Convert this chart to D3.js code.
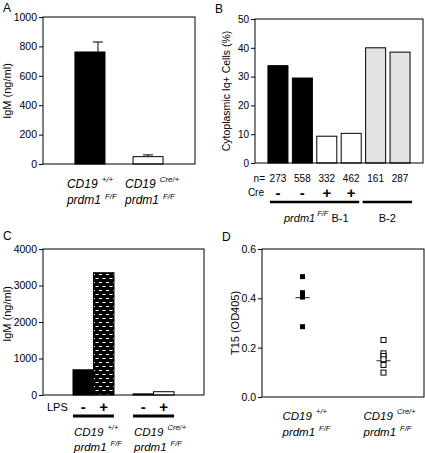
<!DOCTYPE html>
<html><head><meta charset="utf-8">
<script src="https://cdn.jsdelivr.net/npm/d3@7"></script>
<style>body{margin:0;background:#fff} svg{display:block} text{font-family:"Liberation Sans",Arial,sans-serif;fill:#000}</style>
</head><body><svg id="c" width="425" height="453"></svg>
<script>
// ---------- data ----------
const genotypes = ["wt", "cre"];
const genotypeSup = ["+/+", "Cre/+"];

const panelA_values = [762, 50];
const panelA_errors = [830, 62];
const panelA_ticks = [0, 200, 400, 600, 800, 1000];

const panelB_keys = ["b1", "b2", "b3", "b4", "b5", "b6"];
const panelB_groups = ["flox", "flox", "cre", "cre", "b2", "b2"];
const panelB_values = [33.8, 29.5, 9.3, 10.3, 40.0, 38.5];
const panelB_n = ["273", "558", "332", "462", "161", "287"];
const panelB_cre = ["-", "-", "+", "+", "", ""];
const panelB_ticks = [0, 10, 20, 30, 40, 50];

const panelC_lps = ["-", "+"];
const panelC_wt = [690, 3350];
const panelC_cre = [30, 90];
const panelC_ticks = [0, 1000, 2000, 3000, 4000];

const panelD_wt = [0.488, 0.423, 0.414, 0.405, 0.285];
const panelD_cre = [0.231, 0.177, 0.166, 0.153, 0.130, 0.099];
const panelD_means = [0.403, 0.147];
const panelD_ticks = [0.0, 0.2, 0.4, 0.6];

// ---------- helpers ----------
const svg = d3.select("#c");
const FONT = "'Liberation Sans', Arial, sans-serif";

function frame(g, x0, x1, y0, y1) {
  g.append("rect").attr("x", x0).attr("y", y0).attr("width", x1 - x0).attr("height", y1 - y0)
    .attr("fill", "none").attr("stroke", "#000").attr("stroke-width", 1);
}
function yAxis(g, y, x0, ticks, fmt, fs) {
  g.append("g").attr("transform", `translate(${x0},0)`)
    .call(d3.axisLeft(y).tickValues(ticks).tickSize(4).tickPadding(2).tickFormat(fmt))
    .call(a => {
      a.attr("font-family", FONT);
      a.select(".domain").remove();
      a.selectAll("text").attr("font-size", fs).attr("fill", "#000");
      a.selectAll("line").attr("stroke", "#000");
    });
}
function yLabel(g, x, y, text, fs) {
  g.append("text").attr("transform", `translate(${x},${y}) rotate(-90)`)
    .attr("text-anchor", "middle").attr("font-size", fs).text(text);
}
function letter(x, y, t) {
  svg.append("text").attr("x", x).attr("y", y).attr("font-size", 12).text(t);
}
function genoLabel(g, x, y, sup, fs, gap, dyLine) {
  const t1 = g.append("text").attr("x", x).attr("y", y).attr("font-size", fs).attr("font-style", "italic");
  t1.append("tspan").text("CD19");
  t1.append("tspan").attr("dx", gap).attr("dy", -6).attr("font-size", fs * 0.66).text(sup);
  const t2 = g.append("text").attr("x", x).attr("y", y + dyLine).attr("font-size", fs).attr("font-style", "italic");
  t2.append("tspan").text("prdm1");
  t2.append("tspan").attr("dx", gap).attr("dy", -5).attr("font-size", fs * 0.66).text("F/F");
}

// ---------- Panel A ----------
(function () {
  const g = svg.append("g");
  const L = 43, R = 195, T = 17, B = 164;
  const x = d3.scaleBand().domain(genotypes).range([L, R]).paddingInner(0.483).paddingOuter(0.55);
  const y = d3.scaleLinear().domain([0, 1000]).range([B, T]);
  const fills = ["#000", "#fff"];
  genotypes.forEach((k, i) => {
    g.append("rect").attr("x", x(k)).attr("y", y(panelA_values[i])).attr("width", x.bandwidth())
      .attr("height", y(0) - y(panelA_values[i])).attr("fill", fills[i]).attr("stroke", "#000");
    const cx = x(k) + x.bandwidth() / 2 + (i === 0 ? 8 : 0);
    g.append("line").attr("x1", cx).attr("x2", cx).attr("y1", y(panelA_values[i])).attr("y2", y(panelA_errors[i])).attr("stroke", "#000");
    g.append("line").attr("x1", cx - 5).attr("x2", cx + 5).attr("y1", y(panelA_errors[i])).attr("y2", y(panelA_errors[i])).attr("stroke", "#000");
    genoLabel(g, x(k) - 8, 188, genotypeSup[i], 12, 4, 16);
  });
  frame(g, L, R, T, B);
  yAxis(g, y, L, panelA_ticks, d3.format("d"), 10.5);
  yLabel(g, 11, 91, "IgM (ng/ml)", 11);
  letter(3, 12, "A");
})();

// ---------- Panel B ----------
(function () {
  const g = svg.append("g");
  const L = 255, R = 423, T = 19, B = 163;
  const x = d3.scaleBand().domain(panelB_keys).range([L, R]).paddingInner(0.18).paddingOuter(0.53);
  const y = d3.scaleLinear().domain([0, 50]).range([B, T]);
  const fill = { flox: "#000", cre: "#fff", b2: "#e2e2e2" };
  panelB_keys.forEach((k, i) => {
    g.append("rect").attr("x", x(k)).attr("y", y(panelB_values[i])).attr("width", x.bandwidth())
      .attr("height", y(0) - y(panelB_values[i])).attr("fill", fill[panelB_groups[i]]).attr("stroke", "#000");
    const cx = x(k) + x.bandwidth() / 2;
    g.append("text").attr("x", cx).attr("y", 182).attr("text-anchor", "middle").attr("font-size", 10).text(panelB_n[i]);
    if (panelB_cre[i]) g.append("text").attr("x", cx).attr("y", 198).attr("text-anchor", "middle")
      .attr("font-size", 15).attr("font-weight", "bold").text(panelB_cre[i]);
  });
  frame(g, L, R, T, B);
  yAxis(g, y, L, panelB_ticks, d3.format("d"), 10);
  yLabel(g, 230, 91, "Cytoplasmic  Iq+ Cells (%)", 10.5);
  g.append("text").attr("x", 265).attr("y", 182).attr("text-anchor", "end").attr("font-size", 10).text("n=");
  g.append("text").attr("x", 264).attr("y", 196).attr("text-anchor", "end").attr("font-size", 10).text("Cre");
  const x0 = x("b1") + 2, x1 = x("b4") + x.bandwidth() - 2, x2 = x("b5") - 3, x3 = x("b6") + x.bandwidth() + 2;
  g.append("line").attr("x1", x0).attr("x2", x1).attr("y1", 202).attr("y2", 202).attr("stroke", "#000").attr("stroke-width", 2.5);
  g.append("line").attr("x1", x2).attr("x2", x3).attr("y1", 202).attr("y2", 202).attr("stroke", "#000").attr("stroke-width", 2.5);
  const t = g.append("text").attr("x", 284).attr("y", 222).attr("font-size", 11);
  t.append("tspan").attr("font-style", "italic").text("prdm1");
  t.append("tspan").attr("font-style", "italic").attr("dx", 2).attr("dy", -6).attr("font-size", 7.5).text("F/F");
  t.append("tspan").attr("dx", 3).attr("dy", 6).text("B-1");
  g.append("text").attr("x", (x2 + x3) / 2).attr("y", 222).attr("text-anchor", "middle").attr("font-size", 11).text("B-2");
  letter(215, 13, "B");
})();

// ---------- Panel C ----------
(function () {
  const g = svg.append("g");
  const defs = svg.append("defs");
  const p = defs.append("pattern").attr("id", "dash").attr("patternUnits", "userSpaceOnUse").attr("width", 7).attr("height", 8);
  p.append("rect").attr("width", 7).attr("height", 8).attr("fill", "#000");
  p.append("rect").attr("x", 1).attr("y", 2).attr("width", 3).attr("height", 1).attr("fill", "#fff");
  p.append("rect").attr("x", 4.5).attr("y", 6).attr("width", 2.5).attr("height", 1).attr("fill", "#fff");
  p.append("rect").attr("x", 0).attr("y", 6).attr("width", 0.5).attr("height", 1).attr("fill", "#fff");

  const L = 43, R = 204, T = 249, B = 395;
  const x = d3.scaleBand().domain(genotypes).range([L, R]).paddingInner(0.317).paddingOuter(0.5);
  const xs = d3.scaleBand().domain(panelC_lps).range([0, x.bandwidth()]);
  const y = d3.scaleLinear().domain([0, 4000]).range([B, T]);
  const series = [panelC_wt, panelC_cre];
  const fills = [["#000", "url(#dash)"], ["#000", "#fff"]];
  genotypes.forEach((k, gi) => {
    panelC_lps.forEach((l, li) => {
      const v = series[gi][li];
      g.append("rect").attr("x", x(k) + xs(l)).attr("y", y(v)).attr("width", xs.bandwidth())
        .attr("height", y(0) - y(v)).attr("fill", fills[gi][li]).attr("stroke", "#000");
      g.append("text").attr("x", x(k) + xs(l) + xs.bandwidth() / 2).attr("y", 412).attr("text-anchor", "middle")
        .attr("font-size", 15).attr("font-weight", "bold").text(l);
    });
    g.append("line").attr("x1", x(k)).attr("x2", x(k) + x.bandwidth()).attr("y1", 416).attr("y2", 416)
      .attr("stroke", "#000").attr("stroke-width", 3);
    genoLabel(g, x(k) + 1, 436, genotypeSup[gi], 11.5, 4, 15);
  });
  frame(g, L, R, T, B);
  yAxis(g, y, L, panelC_ticks, d3.format("d"), 10.5);
  yLabel(g, 11, 314, "IgM (ng/ml)", 11);
  g.append("text").attr("x", 47).attr("y", 411).attr("font-size", 11).text("LPS");
  letter(3, 240, "C");
})();

// ---------- Panel D ----------
(function () {
  const g = svg.append("g");
  const L = 262, R = 424, T = 249, B = 397;
  const x = d3.scalePoint().domain(genotypes).range([L, R]).padding(0.5);
  const y = d3.scaleLinear().domain([0, 0.6]).range([B, T]);
  const series = [panelD_wt, panelD_cre];
  const s = 5;
  genotypes.forEach((k, gi) => {
    const cx = x(k);
    g.append("line").attr("x1", cx - 7).attr("x2", cx + 7).attr("y1", y(panelD_means[gi])).attr("y2", y(panelD_means[gi]))
      .attr("stroke", "#444").attr("stroke-width", 1.2);
    series[gi].forEach(v => {
      g.append("rect").attr("x", cx - s / 2).attr("y", y(v) - s / 2).attr("width", s).attr("height", s)
        .attr("fill", gi === 0 ? "#000" : "#fff").attr("stroke", "#000").attr("stroke-width", gi === 0 ? 0 : 1);
    });
    genoLabel(g, cx - 20, 420, genotypeSup[gi], 11.5, 4, 16);
  });
  frame(g, L, R, T, B);
  yAxis(g, y, L, panelD_ticks, d3.format(".1f"), 10.5);
  yLabel(g, 239, 323, "T15 (OD405)", 11);
  letter(222, 241, "D");
})();
</script></body></html>
